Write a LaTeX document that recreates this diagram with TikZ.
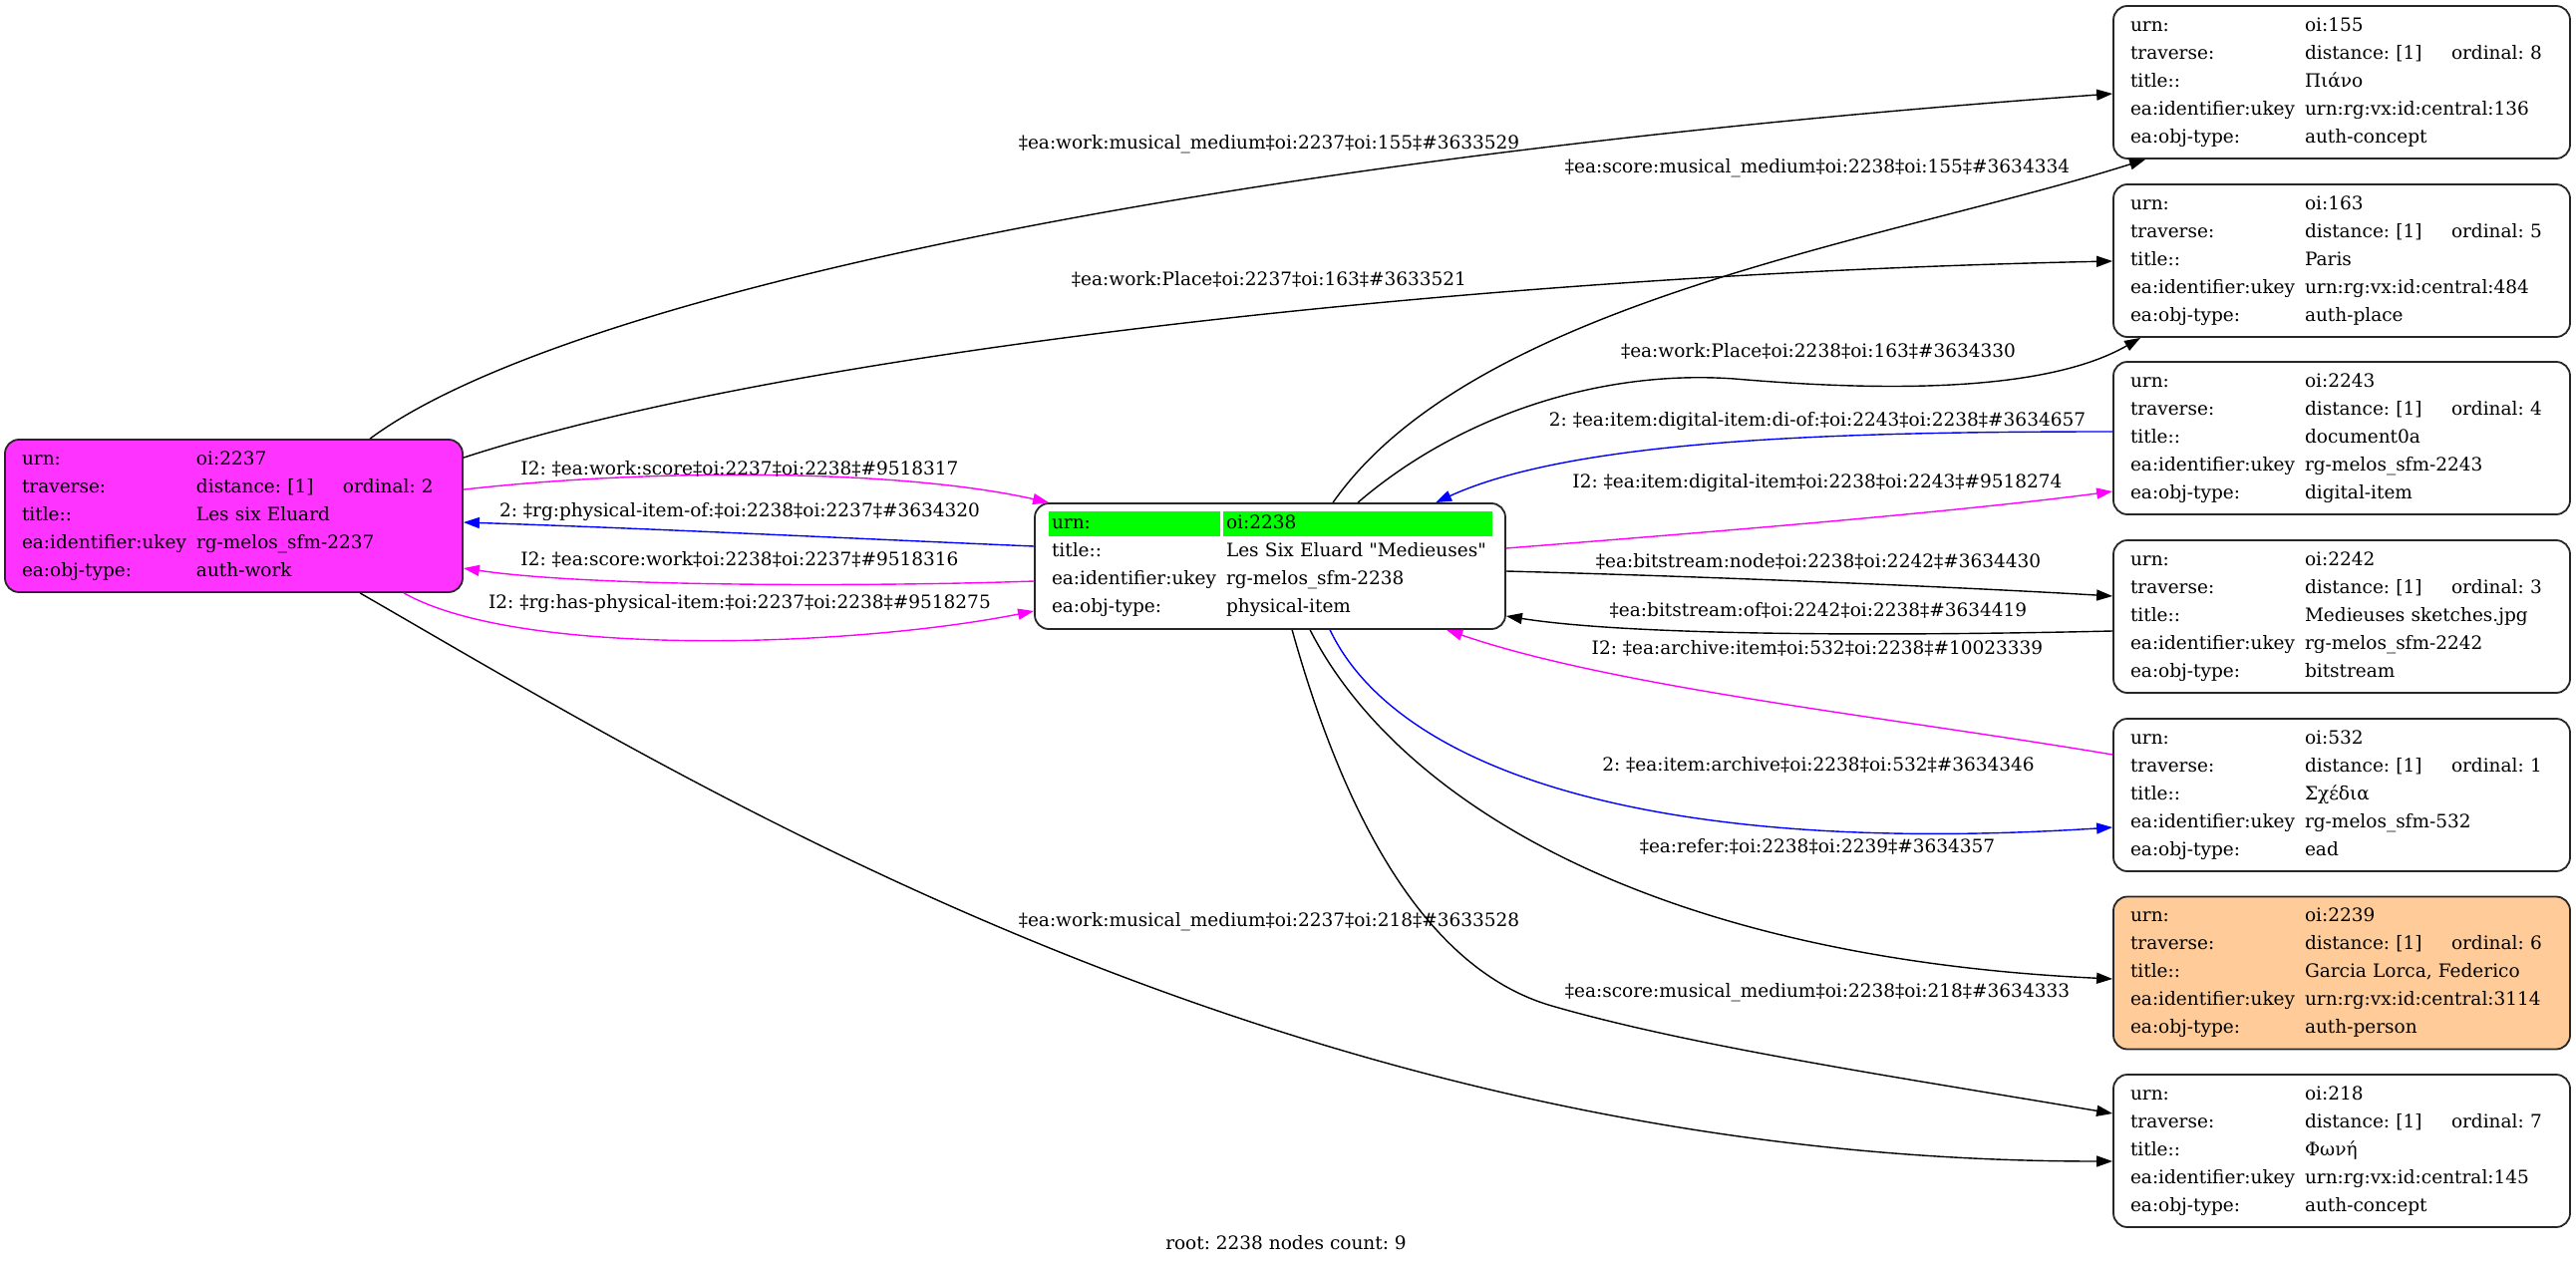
\documentclass[tikz,border=0pt]{standalone}
\usepackage{fontspec}
\setmainfont{DejaVu Serif}
\newfontfamily\plainserif{DejaVu Serif}
\usetikzlibrary{arrows.meta,calc}
\definecolor{magfill}{RGB}{255,51,255}
\definecolor{orgfill}{RGB}{255,204,153}
\definecolor{grnfill}{RGB}{0,255,0}
\definecolor{edgemag}{RGB}{255,0,255}
\definecolor{edgeblue}{RGB}{0,0,255}
\frenchspacing
\newcommand\kvrow[2]{\makebox[175pt][l]{#1}#2}
\newcommand\kvtrav[1]{\makebox[175pt][l]{traverse:}\makebox[147pt][l]{distance: [1]}ordinal: #1}
\tikzset{
  recbox/.style={draw=black!85, line width=1.8pt, rounded corners=14pt,
    minimum width=458pt, minimum height=153pt, inner xsep=17pt, inner ysep=0pt,
    text width=424pt, align=left, font=\fontsize{18.5}{28}\selectfont\frenchspacing},
  lbl/.style={font=\fontsize{18.5}{22}\selectfont\frenchspacing, inner sep=0pt},
  conn/.style={line width=1.4pt, -{Triangle[length=16pt,width=11pt]}},
  cmag/.style={conn, draw=edgemag, -{Triangle[length=16pt,width=11pt,fill=edgemag]}},
  cblue/.style={conn, draw=edgeblue, -{Triangle[length=16pt,width=11pt,fill=edgeblue]}}
}
\begin{document}
\begin{tikzpicture}[x=1pt,y=-1pt]
\path[use as bounding box] (0,0) rectangle (2584,1268);

% green cells of the root node
\fill[grnfill] (1052,513) rectangle (1224,538);
\fill[grnfill] (1227,513) rectangle (1497,538);

% nodes
\node[recbox, fill=magfill, minimum width=459pt, text width=425pt] (n2237) at (234.5,517.5) {%
\kvrow{urn:}{oi:2237}\\ \kvtrav{2}\\ \kvrow{title::}{Les six Eluard}\\ \kvrow{ea:identifier:ukey}{rg-melos\_sfm-2237}\\ \kvrow{ea:obj-type:}{auth-work}};

\node[recbox, minimum width=472pt, minimum height=126pt, text width=438pt] (n2238) at (1274,568) {%
\kvrow{urn:}{oi:2238}\\ \kvrow{title::}{Les Six Eluard {\plainserif"Medieuses"}}\\ \kvrow{ea:identifier:ukey}{rg-melos\_sfm-2238}\\ \kvrow{ea:obj-type:}{physical-item}};

\node[recbox] (n155) at (2349,82.5) {%
\kvrow{urn:}{oi:155}\\ \kvtrav{8}\\ \kvrow{title::}{Πιάνο}\\ \kvrow{ea:identifier:ukey}{urn:rg:vx:id:central:136}\\ \kvrow{ea:obj-type:}{auth-concept}};

\node[recbox] (n163) at (2349,261.5) {%
\kvrow{urn:}{oi:163}\\ \kvtrav{5}\\ \kvrow{title::}{Paris}\\ \kvrow{ea:identifier:ukey}{urn:rg:vx:id:central:484}\\ \kvrow{ea:obj-type:}{auth-place}};

\node[recbox] (n2243) at (2349,439.5) {%
\kvrow{urn:}{oi:2243}\\ \kvtrav{4}\\ \kvrow{title::}{document0a}\\ \kvrow{ea:identifier:ukey}{rg-melos\_sfm-2243}\\ \kvrow{ea:obj-type:}{digital-item}};

\node[recbox] (n2242) at (2349,618.5) {%
\kvrow{urn:}{oi:2242}\\ \kvtrav{3}\\ \kvrow{title::}{Medieuses sketches.jpg}\\ \kvrow{ea:identifier:ukey}{rg-melos\_sfm-2242}\\ \kvrow{ea:obj-type:}{bitstream}};

\node[recbox] (n532) at (2349,797.5) {%
\kvrow{urn:}{oi:532}\\ \kvtrav{1}\\ \kvrow{title::}{Σχέδια}\\ \kvrow{ea:identifier:ukey}{rg-melos\_sfm-532}\\ \kvrow{ea:obj-type:}{ead}};

\node[recbox, fill=orgfill] (n2239) at (2349,976) {%
\kvrow{urn:}{oi:2239}\\ \kvtrav{6}\\ \kvrow{title::}{Garcia Lorca, Federico}\\ \kvrow{ea:identifier:ukey}{urn:rg:vx:id:central:3114}\\ \kvrow{ea:obj-type:}{auth-person}};

\node[recbox] (n218) at (2349,1154.5) {%
\kvrow{urn:}{oi:218}\\ \kvtrav{7}\\ \kvrow{title::}{Φωνή}\\ \kvrow{ea:identifier:ukey}{urn:rg:vx:id:central:145}\\ \kvrow{ea:obj-type:}{auth-concept}};

% connectors
\draw[conn] ($(n2237.north west)+(367,0)$) .. controls (560,300) and (1200,160) .. ($(n155.west)+(0,11.5)$);
\draw[conn] ($(n2238.north west)+(300,0)$) .. controls (1480,300) and (1900,240) .. ($(n155.south west)+(33,0)$);
\draw[conn] ($(n2237.north east)+(0,19)$) .. controls (800,350) and (1500,275) .. ($(n163.west)+(0,0.5)$);
\draw[conn] ($(n2238.north west)+(325,0)$) .. controls (1460,420) and (1600,370) .. (1740,380) .. controls (1880,392) and (2050,395) .. ($(n163.south west)+(28,0)$);
\draw[cblue] ($(n2243.west)+(0,-6.5)$) .. controls (1850,433) and (1580,440) .. ($(n2238.north west)+(403,0)$);
\draw[cmag] ($(n2238.east)+(0,-18)$) .. controls (1700,535) and (1950,515) .. ($(n2243.west)+(0,53.5)$);
\draw[conn] ($(n2238.east)+(0,5)$) .. controls (1700,578) and (1950,588) .. ($(n2242.west)+(0,-20.5)$);
\draw[conn] ($(n2242.west)+(0,14.5)$) .. controls (1950,637) and (1650,640) .. ($(n2238.east)+(0,50)$);
\draw[cmag] ($(n532.west)+(0,-40.5)$) .. controls (1900,720) and (1620,690) .. ($(n2238.south west)+(414,0)$);
\draw[cblue] ($(n2238.south west)+(297,0)$) .. controls (1400,770) and (1650,860) .. ($(n532.west)+(0,32.5)$);
\draw[conn] ($(n2238.south west)+(277,0)$) .. controls (1400,800) and (1650,960) .. ($(n2239.west)+(0,6)$);
\draw[conn] ($(n2238.south west)+(259,0)$) .. controls (1360,860) and (1450,980) .. (1560,1010) .. controls (1700,1050) and (1900,1080) .. ($(n218.west)+(0,-37.5)$);
\draw[conn] ($(n2237.south west)+(357,0)$) .. controls (700,790) and (1300,1165) .. ($(n218.west)+(0,10.5)$);
\draw[cmag] ($(n2237.north east)+(0,51)$) .. controls (650,470) and (900,470) .. ($(n2238.north west)+(15,0)$);
\draw[cblue] ($(n2238.west)+(0,-20)$) .. controls (850,540) and (650,530) .. ($(n2237.east)+(0,6.5)$);
\draw[cmag] ($(n2238.west)+(0,15)$) .. controls (900,588) and (600,590) .. ($(n2237.east)+(0,52.5)$);
\draw[cmag] ($(n2237.south west)+(401,0)$) .. controls (520,660) and (850,650) .. ($(n2238.west)+(0,45)$);

% labels
\node[lbl] (l1) at (1273,145) {‡ea:work:musical\_medium‡oi:2237‡oi:155‡\#3633529};
\node[lbl] (l2) at (1823,169) {‡ea:score:musical\_medium‡oi:2238‡oi:155‡\#3634334};
\node[lbl] (l3) at (1273,280) {‡ea:work:Place‡oi:2237‡oi:163‡\#3633521};
\node[lbl] (l4) at (1824,352) {‡ea:work:Place‡oi:2238‡oi:163‡\#3634330};
\node[lbl] (l5) at (1823,423) {2: ‡ea:item:digital-item:di-of:‡oi:2243‡oi:2238‡\#3634657};
\node[lbl] (l6) at (1823,485) {I2: ‡ea:item:digital-item‡oi:2238‡oi:2243‡\#9518274};
\node[lbl] (l7) at (1824,563) {‡ea:bitstream:node‡oi:2238‡oi:2242‡\#3634430};
\node[lbl] (l8) at (1824,612) {‡ea:bitstream:of‡oi:2242‡oi:2238‡\#3634419};
\node[lbl] (l9) at (1823,650) {I2: ‡ea:archive:item‡oi:532‡oi:2238‡\#10023339};
\node[lbl] (l10) at (1824,767) {2: ‡ea:item:archive‡oi:2238‡oi:532‡\#3634346};
\node[lbl] (l11) at (1823,849) {‡ea:refer:‡oi:2238‡oi:2239‡\#3634357};
\node[lbl] (l12) at (1823,996) {‡ea:score:musical\_medium‡oi:2238‡oi:218‡\#3634333};
\node[lbl] (l13) at (1273,925) {‡ea:work:musical\_medium‡oi:2237‡oi:218‡\#3633528};
\node[lbl] (l14) at (742,470) {I2: ‡ea:work:score‡oi:2237‡oi:2238‡\#9518317};
\node[lbl] (l15) at (742,514) {2: ‡rg:physical-item-of:‡oi:2238‡oi:2237‡\#3634320};
\node[lbl] (l16) at (742,561) {I2: ‡ea:score:work‡oi:2238‡oi:2237‡\#9518316};
\node[lbl] (l17) at (742,606) {I2: ‡rg:has-physical-item:‡oi:2237‡oi:2238‡\#9518275};

\node[lbl] (foot) at (1290,1247) {root: 2238 nodes count: 9};
\end{tikzpicture}
\end{document}
